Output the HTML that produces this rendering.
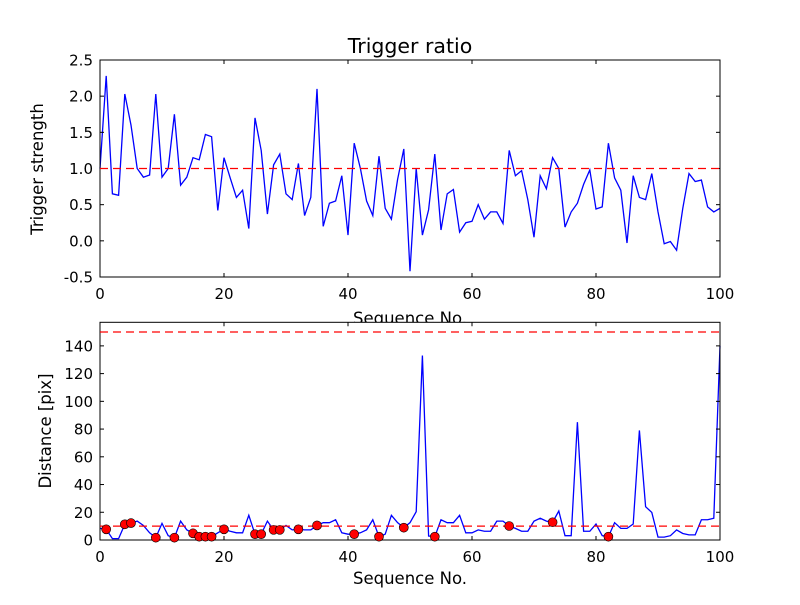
<!DOCTYPE html>
<html><head><meta charset="utf-8"><style>
body{margin:0;background:#fff}
svg text{font-family:"DejaVu Sans","Liberation Sans",sans-serif;fill:#000}
</style></head><body>
<svg id="fig" width="800" height="600" xmlns="http://www.w3.org/2000/svg"></svg>
<script>
const seqX = Array.from({length:101},(_,i)=>i);
const triggerValues = [1.0,2.28,0.65,0.63,2.03,1.6,1.0,0.88,0.91,2.03,0.88,1.0,1.75,0.77,0.88,1.15,1.12,1.47,1.44,0.42,1.15,0.87,0.6,0.7,0.17,1.7,1.25,0.37,1.05,1.2,0.65,0.57,1.07,0.35,0.6,2.1,0.2,0.52,0.55,0.9,0.08,1.35,1.0,0.55,0.35,1.17,0.45,0.3,0.85,1.27,-0.42,1.0,0.08,0.43,1.2,0.15,0.65,0.71,0.12,0.25,0.27,0.5,0.3,0.4,0.4,0.24,1.25,0.9,0.97,0.57,0.05,0.9,0.72,1.15,1.0,0.19,0.4,0.52,0.78,0.98,0.44,0.47,1.35,0.87,0.7,-0.03,0.9,0.6,0.57,0.93,0.4,-0.04,-0.01,-0.13,0.45,0.93,0.82,0.84,0.47,0.4,0.45];
const distValues = [8.4,7.7,1,1,11.3,12.2,13.6,10.5,5.2,1.7,12,3.1,1.7,13.6,7.3,4.8,2.4,2.4,2.4,5.2,7.7,6.3,5.2,5.2,17.8,4.2,4.2,13.6,7.3,7.3,10.5,7.3,7.7,7.3,7.3,10.5,12.5,12.5,14.6,5.2,4.2,4.2,5.2,7.3,14.6,2.4,4.2,17.8,12.5,8.9,12.5,20.4,133,2.9,2.4,14.6,12.5,12.5,17.8,5.2,5.2,7.3,6.3,6.3,13.6,13.6,10.1,8.4,6.3,6.3,13.6,15.7,13.6,12.8,20.9,3.1,3.1,85,6.3,6.3,11.5,3.1,2.4,12.5,8.4,8.4,11.5,79,24,19.9,2.1,2.1,3.1,7.3,4.7,3.7,3.7,14.6,14.6,15.7,140];
const dotIdx = [1,4,5,9,12,15,16,17,18,20,25,26,28,29,32,35,41,45,49,54,66,73,82];
const topTicksY = [-0.5,0.0,0.5,1.0,1.5,2.0,2.5];
const botTicksY = [0,20,40,60,80,100,120,140];
const ticksX = [0,20,40,60,80,100];
const topThreshold = 1.0;
const botThresholds = [10,150];

const NS="http://www.w3.org/2000/svg";
const svg=document.getElementById('fig');
function mk(tag,attrs,parent){const e=document.createElementNS(NS,tag);for(const k in attrs)e.setAttribute(k,attrs[k]);(parent||svg).appendChild(e);return e;}

function axes(cfg){
  const {L,R,T,B,ymin,ymax,name}=cfg;
  const sx=v=>L+(v-0)/(100-0)*(R-L);
  const sy=v=>B-(v-ymin)/(ymax-ymin)*(B-T);
  const g=mk('g',{});
  
  
  const bg=mk('rect',{x:L,y:T,width:R-L,height:B-T,fill:'#fff'},g);
  
  
  return {g,sx,sy,...cfg};
}
function finishAxes(a,yticks,fmt){
  const {g,sx,sy,L,R,T,B,name}=a;
  ticksX.forEach(v=>{
    const x=sx(v);
    mk('line',{x1:x,y1:B,x2:x,y2:B-4,stroke:'#000','stroke-width':1},g);
    mk('line',{x1:x,y1:T,x2:x,y2:T+4,stroke:'#000','stroke-width':1},g);
    const t=mk('text',{x:x,y:B+22,'text-anchor':'middle','font-size':15},g);
    t.textContent=String(v);
    
    
  });
  yticks.forEach(v=>{
    const y=sy(v);
    mk('line',{x1:L,y1:y,x2:L+4,y2:y,stroke:'#000','stroke-width':1},g);
    mk('line',{x1:R,y1:y,x2:R-4,y2:y,stroke:'#000','stroke-width':1},g);
    const t=mk('text',{x:L-7,y:y+5.5,'text-anchor':'end','font-size':15},g);
    t.textContent=fmt(v);
    
    
  });
  const fr=mk('rect',{x:L,y:T,width:R-L,height:B-T,fill:'none',stroke:'#000','stroke-width':1},g);
  
  
}
function clipLine(a,vals,name){
  const pts=vals.map((v,i)=>a.sx(seqX[i]).toFixed(2)+','+a.sy(v).toFixed(2)).join(' ');
  const p=mk('polyline',{points:pts,fill:'none',stroke:'#0000ff','stroke-width':1.3},a.g);
  
  
}
function hline(a,v,name){
  const l=mk('line',{x1:a.L,x2:a.R,y1:a.sy(v),y2:a.sy(v),stroke:'#ff0000','stroke-width':1.3,'stroke-dasharray':'8,5'},a.g);
  
  
}

// Top axes
const A=axes({L:100,R:720,T:60,B:277,ymin:-0.5,ymax:2.5,name:'trigger-axes'});
clipLine(A,triggerValues,'trigger-line');
finishAxes(A,topTicksY,v=>v.toFixed(1));
hline(A,topThreshold,'trigger-threshold-line');
let t=mk('text',{x:410,y:53,'text-anchor':'middle','font-size':20.5});
t.textContent='Trigger ratio';


t=mk('text',{x:410,y:324,'text-anchor':'middle','font-size':16.5});
t.textContent='Sequence No.';


t=mk('text',{x:0,y:0,'text-anchor':'middle','font-size':16.5,transform:'translate(43,169) rotate(-90)'});
t.textContent='Trigger strength';



// Bottom axes
const Bx=axes({L:100,R:720,T:322.3,B:540,ymin:0,ymax:157,name:'distance-axes'});
clipLine(Bx,distValues,'distance-line');
finishAxes(Bx,botTicksY,v=>String(v));
botThresholds.forEach(v=>hline(Bx,v,'distance-threshold-line'));
dotIdx.forEach(i=>{
  const c=mk('circle',{cx:Bx.sx(seqX[i]),cy:Bx.sy(distValues[i]),r:4.5,fill:'#ff0000',stroke:'#000','stroke-width':0.6},Bx.g);
  
  
});
t=mk('text',{x:410,y:584,'text-anchor':'middle','font-size':16.5});
t.textContent='Sequence No.';


t=mk('text',{x:0,y:0,'text-anchor':'middle','font-size':16.5,transform:'translate(51,431) rotate(-90)'});
t.textContent='Distance [pix]';


</script>
</body></html>
